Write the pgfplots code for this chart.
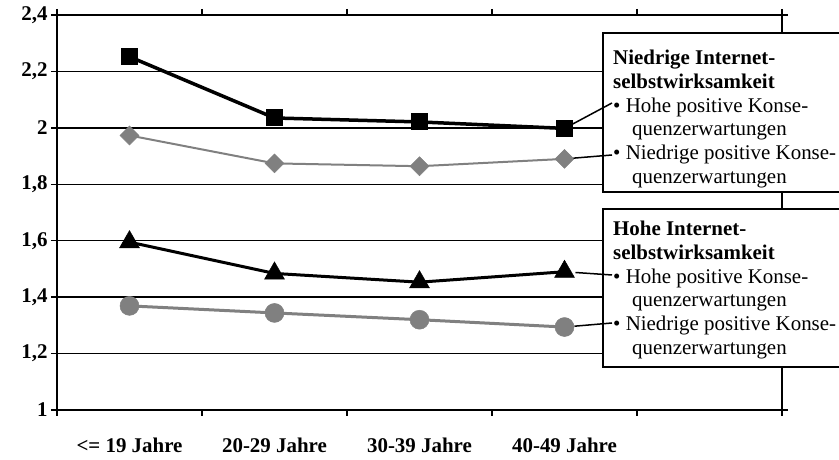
\documentclass[border=0pt]{standalone}
\usepackage{pgfplots}
\pgfplotsset{compat=1.18}
\usepackage{fontspec}
\setmainfont{Liberation Serif}

\definecolor{midgray}{RGB}{128,128,128}

\begin{document}
\begin{tikzpicture}[x=1bp,y=1bp]
  \useasboundingbox (0,0) rectangle (839,460);

  \begin{axis}[
      at={(57bp,50bp)}, anchor=south west,
      scale only axis,
      width=725bp, height=395bp,
      xmin=0, xmax=5, ymin=1, ymax=2.4,
      xtick={0,1,2,3,4,5},
      xticklabels={{<= 19 Jahre},{20-29 Jahre},{30-39 Jahre},{40-49 Jahre},{},{}},
      xticklabel style={xshift=72.5bp, yshift=-18bp},
      ytick={1,1.2,1.4,1.6,1.8,2,2.2,2.4},
      yticklabels={1,{1,2},{1,4},{1,6},{1,8},2,{2,2},{2,4}},
      ticklabel style={font=\bfseries\fontsize{21}{24}\selectfont},
      tick align=outside,
      major tick length=6bp,
      tick style={black, line width=1.5bp},
      ymajorgrids,
      grid style={black, line width=1.5bp},
      axis line style={black, line width=2.5bp},
      clip=false,
    ]

    % Niedrige Internetselbstwirksamkeit, hohe positive Konsequenzerwartungen
    \addplot[black, line width=3.5bp, mark=square*,
             mark size=8bp, mark options={fill=black, line width=1bp}]
      coordinates {(0.5,2.252) (1.5,2.035) (2.5,2.021) (3.5,1.998)};

    % Niedrige Internetselbstwirksamkeit, niedrige positive Konsequenzerwartungen
    \addplot[midgray, line width=2bp, mark=square*,
             mark size=6.7bp, mark options={rotate=45, fill=midgray, line width=0.5bp}]
      coordinates {(0.5,1.973) (1.5,1.874) (2.5,1.864) (3.5,1.890)};

    % Hohe Internetselbstwirksamkeit, hohe positive Konsequenzerwartungen
    \addplot[black, line width=3bp, mark=triangle*,
             mark size=11.5bp, mark options={fill=black, line width=0.5bp}]
      coordinates {(0.5,1.595) (1.5,1.484) (2.5,1.453) (3.5,1.490)};

    % Hohe Internetselbstwirksamkeit, niedrige positive Konsequenzerwartungen
    \addplot[midgray, line width=3bp, mark=*,
             mark size=9.5bp, mark options={fill=midgray, line width=0.5bp}]
      coordinates {(0.5,1.369) (1.5,1.344) (2.5,1.320) (3.5,1.294)};

    \coordinate (sq) at (axis cs:3.5,1.998);
    \coordinate (di) at (axis cs:3.5,1.890);
    \coordinate (tr) at (axis cs:3.5,1.490);
    \coordinate (ci) at (axis cs:3.5,1.294);
  \end{axis}

  % legend boxes
  \draw[black, line width=1.5bp, fill=white] (603,427) rectangle (850,268);
  \draw[black, line width=1.5bp, fill=white] (603,251) rectangle (850,93);

  \node[anchor=north west, align=left, inner sep=0pt,
        font=\fontsize{21}{23.8}\selectfont] at (613,410)
    {\textbf{Niedrige Internet-}\\
     \textbf{selbstwirksamkeit}\\
     • Hohe positive Konse-\\
     \hspace*{19bp}quenzerwartungen\\
     • Niedrige positive Konse-\\
     \hspace*{19bp}quenzerwartungen};

  \node[anchor=north west, align=left, inner sep=0pt,
        font=\fontsize{21}{23.8}\selectfont] at (613,239)
    {\textbf{Hohe Internet-}\\
     \textbf{selbstwirksamkeit}\\
     • Hohe positive Konse-\\
     \hspace*{19bp}quenzerwartungen\\
     • Niedrige positive Konse-\\
     \hspace*{19bp}quenzerwartungen};

  % leader lines
  \draw[black, line width=1.5bp, shorten <=9bp] (sq) -- (612,357);
  \draw[black, line width=1.5bp, shorten <=9bp] (di) -- (612,305);
  \draw[black, line width=1.5bp, shorten <=11bp] (tr) -- (612,185);
  \draw[black, line width=1.5bp, shorten <=10bp] (ci) -- (612,137);
\end{tikzpicture}
\end{document}
